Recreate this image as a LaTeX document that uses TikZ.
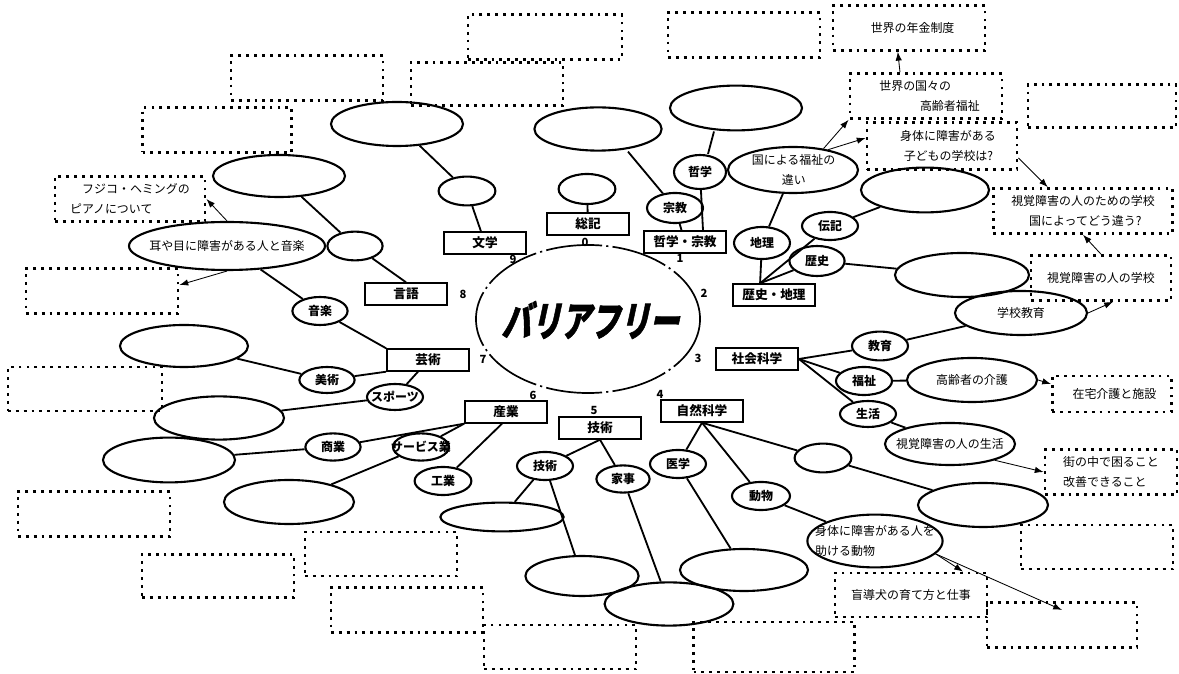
\documentclass[tikz,border=0pt]{standalone}
\usepackage{fontspec}
\setmainfont{Noto Sans CJK JP}
\newfontfamily\titlefont[FakeSlant=0.3, FakeBold=1.5]{Noto Sans CJK JP}
\usetikzlibrary{positioning, arrows.meta, shapes.geometric}
\tikzset{
	catbox/.style={rectangle, draw, line width=1.3pt, minimum width=2.05cm, minimum height=0.54cm,
		inner sep=0pt, font=\bfseries\fontsize{9}{10}\selectfont},
	topic/.style={ellipse, draw, line width=1.5pt, inner sep=0pt, minimum width=1.4cm, minimum height=0.7cm},
	oval/.style={ellipse, draw, line width=1.5pt, inner sep=0pt, minimum width=3.25cm, minimum height=1.1cm},
	memo/.style={rectangle, draw, line width=2pt, dash pattern=on 2pt off 3.6pt, minimum width=3.8cm,
		minimum height=1.12cm, inner sep=0pt, align=left, font=\fontsize{8.5}{14}\selectfont},
	tag/.style={label={[font=\bfseries\fontsize{8.5}{10}\selectfont]center:{#1}}},
	note/.style={label={[font=\fontsize{8.5}{14}\selectfont, align=left]center:{#1}}},
	link/.style={line width=1.3pt},
	memoarr/.style={-{Latex[length=2.2mm,width=1.6mm]}, line width=0.6pt},
	numlbl/.style={font=\bfseries\fontsize{8}{9}\selectfont, inner sep=1pt}
}
\begin{document}
\begin{tikzpicture}[x=0.025cm, y=-0.025cm]
	\useasboundingbox (0,0) rectangle (1179,674);
	% centre
	\node[ellipse, draw, line width=1.2pt, dash pattern=on 40pt off 3pt on 1.5pt off 3pt,
		minimum width=5.6cm, minimum height=3.7cm, inner sep=0pt] (hub) at (588,319) {};
	\node (title) at (590,320) {\scalebox{1}[1.4]{\fontsize{21}{21}\selectfont\titlefont\bfseries バリアフリー}};
	\foreach \k/\px/\py in {0/585/242, 1/680/258, 2/704/293, 3/698/358, 4/660/394,
		5/594/410, 6/533/395, 7/483/359, 8/463/294, 9/513/259}
		\node[numlbl] (num\k) at (\px,\py) {\k};
	% classes
	\node[catbox] (soki) at (588,224) {総記};
	\node[catbox] (tetsu) at (685,242) {哲学・宗教};
	\node[catbox] (reki) at (774,295) {歴史・地理};
	\node[catbox] (shakai) at (757,359) {社会科学};
	\node[catbox] (shizen) at (702,411) {自然科学};
	\node[catbox] (gijutsu) at (600,428) {技術};
	\node[catbox] (sangyo) at (506,412) {産業};
	\node[catbox] (geijutsu) at (428,360) {芸術};
	\node[catbox] (gengo) at (406,294) {言語};
	\node[catbox] (bungaku) at (485,243) {文学};
	% topics
	\node[oval, minimum width=3.3cm] (bungakuOval) at (397,124) {};
	\node[topic, minimum width=1.42cm, minimum height=0.72cm] (bungakuTopic) at (467,191) {};
	\node[topic, minimum width=1.42cm, minimum height=0.75cm] (sokiTopic) at (587,189) {};
	\node[oval, minimum width=3.18cm, minimum height=1.08cm] (shukyoOval) at (598,129) {};
	\node[topic, minimum height=0.75cm, tag=宗教] (shukyo) at (675,208) {};
	\node[topic, minimum width=1.3cm, minimum height=0.85cm, tag=哲学] (tetsugaku) at (700,172) {};
	\node[oval, minimum width=3.3cm, minimum height=1.12cm] (tetsuOval) at (736,108) {};
	\node[oval, minimum height=1.15cm, note={\hspace*{0.1em}国による福祉の\\\hspace*{2.6em}違い}] (kuni) at (793,170) {};
	\node[topic, minimum height=0.8cm, tag=地理] (chiri) at (762,243) {};
	\node[topic, tag=伝記] (denki) at (830,226) {};
	\node[topic, minimum width=1.38cm, minimum height=0.75cm, tag=歴史] (rekishi) at (817,261) {};
	\node[oval, minimum width=3.2cm, minimum height=1.12cm] (denkiOval) at (925,190) {};
	\node[oval, minimum width=3.35cm] (rekishiOval) at (962,275) {};
	\node[oval, minimum width=3.3cm, note=学校教育] (gakko) at (1021,313) {};
	\node[topic, minimum height=0.72cm, tag=教育] (kyoiku) at (880,346) {};
	\node[topic, tag=福祉] (fukushi) at (864,381) {};
	\node[oval, note=高齢者の介護] (kaigo) at (972,380) {};
	\node[topic, minimum height=0.65cm, tag=生活] (seikatsu) at (868,414) {};
	\node[oval, minimum height=1.05cm, note=視覚障害の人の生活] (shikaku) at (950,444) {};
	\node[topic, minimum width=1.42cm, minimum height=0.72cm] (shizenTopic) at (823,458) {};
	\node[oval] (shizenOval) at (983,505) {};
	\node[topic, minimum width=1.45cm, tag=動物] (dobutsu) at (761,496) {};
	\node[oval, minimum width=3.38cm, minimum height=1.32cm, note={身体に障害がある人を\\助ける動物}] (hojo) at (875,541) {};
	\node[topic, tag=医学] (igaku) at (678,464) {};
	\node[oval, minimum width=3.2cm, minimum height=1.05cm] (igakuOval) at (744,570) {};
	\node[topic, minimum width=1.33cm, minimum height=0.68cm, tag=家事] (kaji) at (623,479) {};
	\node[oval, minimum width=3.22cm, minimum height=1.08cm] (kajiOval) at (669,604) {};
	\node[topic, tag=技術] (gijutsuTopic) at (545,466) {};
	\node[oval, minimum width=3.08cm, minimum height=0.72cm] (gijutsuOvalA) at (502,517) {};
	\node[oval, minimum width=2.83cm, minimum height=1cm] (gijutsuOvalB) at (582,576) {};
	\node[topic, minimum width=1.42cm, tag=工業] (kogyo) at (443,481) {};
	\node[topic, minimum height=0.68cm, tag=サービス業] (service) at (421,447) {};
	\node[topic, minimum width=1.38cm, minimum height=0.68cm, tag=商業] (shogyo) at (333,447) {};
	\node[oval, minimum width=3.3cm, minimum height=1.12cm] (shogyoOval) at (169,460) {};
	\node[oval] (serviceOval) at (289,502) {};
	\node[topic, minimum height=0.65cm, tag=スポーツ] (sports) at (395,397) {};
	\node[oval, minimum height=1.08cm] (sportsOval) at (219,418) {};
	\node[topic, minimum width=1.38cm, minimum height=0.65cm, tag=美術] (bijutsu) at (327,380) {};
	\node[oval, minimum width=3.2cm, minimum height=1.05cm] (bijutsuOval) at (184,346) {};
	\node[topic, minimum width=1.38cm, tag=音楽] (ongaku) at (320,311) {};
	\node[oval, minimum width=4.9cm, minimum height=1.2cm, note=耳や目に障害がある人と音楽] (mimi) at (227,246) {};
	\node[topic, minimum width=1.38cm, minimum height=0.72cm] (gengoTopic) at (355,246) {};
	\node[oval, minimum width=3.3cm, minimum height=1.05cm] (gengoOval) at (279,176) {};
	% memo boxes
	\node[memo, minimum width=3.85cm] (memoA) at (545,37) {};
	\node[memo] (memoB) at (744,35) {};
	\node[memo] (nenkin) at (909,28) {\hspace*{0.6em}世界の年金制度};
	\node[memo, minimum height=1.08cm] (memoD) at (487,84) {};
	\node[memo] (memoE) at (307,78) {};
	\node[memo, minimum width=3.72cm] (memoF) at (217,130) {};
	\node[memo] (kokusai) at (926,96) {\hspace*{0.6em}世界の国々の\\\hspace*{4em}高齢者福祉};
	\node[memo, minimum width=3.7cm, minimum height=1.08cm] (memoH) at (1102,106) {};
	\node[memo, minimum width=3.75cm, minimum height=1.18cm] (kodomo) at (942,146) {\hspace*{1em}身体に障害がある\\\hspace*{1.3em}子どもの学校は?};
	\node[memo, minimum width=4.48cm] (kuniGakko) at (1083,211) {視覚障害の人のための学校\\\hspace*{1.5em}国によってどう違う?};
	\node[memo, minimum width=3.5cm] (shikakuGakko) at (1101,278) {視覚障害の人の学校};
	\node[memo, minimum width=3.75cm] (fujiko) at (130,199) {\hspace*{1em}フジコ・ヘミングの\\ピアノについて};
	\node[memo] (memoM) at (102,291) {};
	\node[memo, minimum width=3.85cm, minimum height=1.1cm] (memoN) at (85,389) {};
	\node[memo, minimum width=2.98cm, minimum height=0.9cm] (zaitaku) at (1112,394) {\hspace*{0.4em}在宅介護と施設};
	\node[memo] (memoP) at (94,514) {};
	\node[memo, minimum height=1.08cm] (memoQ) at (218,576) {};
	\node[memo, minimum height=1.1cm] (memoR) at (381,554) {};
	\node[memo] (memoS) at (407,610) {};
	\node[memo, minimum height=1.1cm] (memoT) at (560,647) {};
	\node[memo, minimum width=4.02cm, minimum height=1.25cm] (memoU) at (774,647) {};
	\node[memo, minimum height=1.1cm] (modoken) at (911,595) {盲導犬の育て方と仕事};
	\node[memo, minimum width=3.75cm] (memoW) at (1062,625) {};
	\node[memo, minimum width=3.3cm] (machi) at (1111,472) {街の中で困ること\\改善できること};
	\node[memo, minimum height=1.1cm] (memoY) at (1097,547) {};
	% links
	\draw[link] (bungakuOval) -- (bungakuTopic);
	\draw[link] (bungakuTopic) -- (bungaku);
	\draw[link] (sokiTopic) -- (soki);
	\draw[link] ([xshift=0.75cm]shukyoOval.south) -- (shukyo);
	\draw[link] (shukyo) -- (tetsu);
	\draw[link] ([xshift=-0.55cm]tetsuOval.south) -- ([xshift=0.2cm]tetsugaku.north);
	\draw[link] (tetsugaku) -- ([xshift=0.45cm]tetsu.north);
	\draw[link] (kuni) -- (chiri);
	\draw[link] (chiri) -- ([xshift=0.7cm]reki.north west);
	\draw[link] (denki) -- ([xshift=0.7cm]reki.north west);
	\draw[link] (rekishi) -- ([xshift=0.7cm]reki.north west);
	\draw[link] (denki) -- (denkiOval);
	\draw[link] (rekishi) -- (rekishiOval);
	\draw[link] (shakai.east) -- (kyoiku);
	\draw[link] (kyoiku) -- (gakko);
	\draw[link] (shakai.east) -- (fukushi);
	\draw[link] (fukushi) -- (kaigo);
	\draw[link] (shakai.east) -- (seikatsu);
	\draw[link] (seikatsu) -- (shikaku);
	\draw[link] (shizen.south) -- (shizenTopic);
	\draw[link] (shizenTopic) -- (shizenOval);
	\draw[link] (shizen.south) -- (dobutsu);
	\draw[link] (dobutsu) -- (hojo);
	\draw[link] (shizen.south) -- (igaku);
	\draw[link] (igaku) -- (igakuOval);
	\draw[link] (gijutsu.south) -- (kaji);
	\draw[link] (kaji) -- (kajiOval);
	\draw[link] (gijutsu.south) -- (gijutsuTopic);
	\draw[link] (gijutsuTopic) -- (gijutsuOvalA);
	\draw[link] (gijutsuTopic) -- (gijutsuOvalB);
	\draw[link] (sangyo.south west) -- (shogyo);
	\draw[link] (sangyo.south west) -- (service);
	\draw[link] ([xshift=-0.1cm]sangyo.south) -- (kogyo);
	\draw[link] (shogyo) -- (shogyoOval);
	\draw[link] (service) -- (serviceOval);
	\draw[link] ([xshift=-0.25cm]geijutsu.south) -- (sports);
	\draw[link] (sports) -- (sportsOval);
	\draw[link] (geijutsu.south west) -- (bijutsu);
	\draw[link] (bijutsu) -- (bijutsuOval);
	\draw[link] (geijutsu.north west) -- (ongaku);
	\draw[link] (ongaku) -- (mimi);
	\draw[link] (gengoOval) -- (gengoTopic);
	\draw[link] (gengoTopic) -- (gengo.north);
	% arrows to memos
	\draw[memoarr] (kuni.35) -- (kokusai.south west);
	\draw[memoarr] (kuni.30) -- ([yshift=0.2cm]kodomo.west);
	\draw[memoarr] ([xshift=-0.65cm]kokusai.north) -- ([xshift=-0.28cm]nenkin.south);
	\draw[memoarr] ([yshift=-0.3cm]kodomo.east) -- ([xshift=-0.88cm]kuniGakko.north);
	\draw[memoarr] (shikakuGakko.north) -- (kuniGakko.south);
	\draw[memoarr] (gakko.east) -- ([xshift=0.3cm]shikakuGakko.south);
	\draw[memoarr] (kaigo.east) -- ([yshift=0.25cm]zaitaku.west);
	\draw[memoarr] (shikaku.-20) -- (machi.west);
	\draw[memoarr] (hojo.-12) -- ([xshift=1.3cm]modoken.north);
	\draw[memoarr] (hojo.-12) -- ([yshift=-0.22cm]memoW.north);
	\draw[memoarr] (mimi.north) -- (fujiko.east);
	\draw[memoarr] (mimi.south) -- ([yshift=0.15cm]memoM.east);
\end{tikzpicture}
\end{document}
